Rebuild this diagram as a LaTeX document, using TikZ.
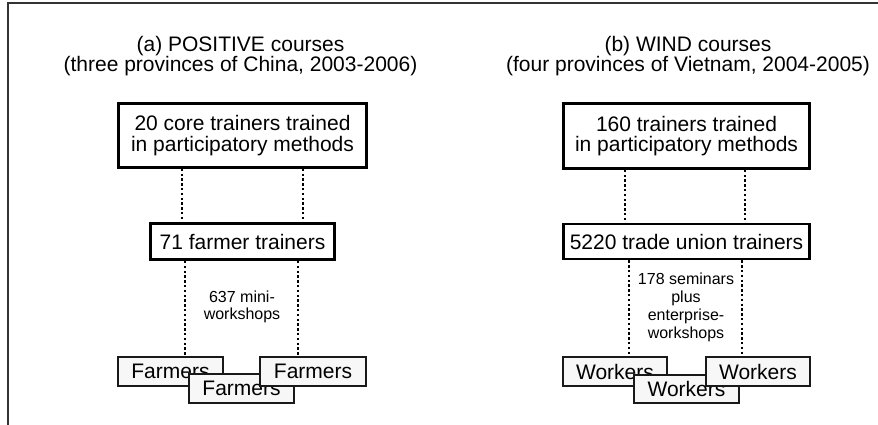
\documentclass[tikz,border=0pt]{standalone}
\usepackage{fontspec}
\setmainfont{Liberation Sans}
\begin{document}
\begin{tikzpicture}[x=1pt,y=-1pt,
  stagebox/.style={draw=black, line width=2.6pt, fill=white, inner sep=0pt,
    align=center, font=\fontsize{21}{20.7}\selectfont},
  groupbox/.style={draw=black!90, line width=2.2pt, fill=black!3, inner sep=0pt,
    minimum height=28.5pt, font=\fontsize{21}{21}\selectfont},
  link/.style={line width=2.6pt, dash pattern=on 2.4pt off 2.4pt},
  heading/.style={align=center, font=\fontsize{21}{17.5}\selectfont},
  note/.style={align=center, inner sep=0pt},
  frameline/.style={draw=black!80, line width=1.6pt}]

\useasboundingbox (0,0) rectangle (878,425);

% outer frame (top and left edges)
\coordinate (ftr) at (878,3);
\coordinate (ftl) at (8,3);
\coordinate (fbl) at (8,425);
\draw[frameline] (ftr) -- (ftl) -- (fbl);

% ---------- (a) POSITIVE ----------
\node[heading] (ta) at (240.5,56) {(a) POSITIVE courses\\(three provinces of China, 2003-2006)};

\node[stagebox, minimum width=248pt, minimum height=64pt] (a1) at (242.5,135.5)
  {20 core trainers trained\\in participatory methods};
\node[stagebox, minimum width=184pt, minimum height=36.5pt] (a2) at (242.5,241.5)
  {71 farmer trainers};

\node[groupbox, minimum width=104.5pt] (f1) at (170.5,371.5) {Farmers};
\node[groupbox, minimum width=104.5pt] (f2) at (241.5,388.5) {Farmers};
\node[groupbox, minimum width=105.5pt] (f3) at (313,371.5) {Farmers};

\draw[link] ([xshift=-60.5pt]a1.south) -- ([xshift=-60.5pt]a1.south |- a2.north);
\draw[link] ([xshift=60.5pt]a1.south) -- ([xshift=60.5pt]a1.south |- a2.north);
\draw[link] ([xshift=-57.5pt]a2.south) -- ([xshift=-57.5pt]a2.south |- f1.north);
\draw[link] ([xshift=55.5pt]a2.south) -- ([xshift=55.5pt]a2.south |- f3.north);

\node[note, font=\fontsize{16}{17}\selectfont] (na) at (242,306.5) {637 mini-\\workshops};

% ---------- (b) WIND ----------
\node[heading] (tb) at (688,56) {(b) WIND courses\\(four provinces of Vietnam, 2004-2005)};

\node[stagebox, minimum width=246.5pt, minimum height=65pt] (b1) at (686.5,136)
  {160 trainers trained\\in participatory methods};
\node[stagebox, minimum width=246.5pt, minimum height=35pt] (b2) at (686.5,241.5)
  {5220 trade union trainers};

\node[groupbox, minimum width=103.5pt] (w1) at (615,371.5) {Workers};
\node[groupbox, minimum width=104.5pt] (w2) at (686.5,389) {Workers};
\node[groupbox, minimum width=103.5pt] (w3) at (758,371.5) {Workers};

\draw[link] ([xshift=-61.5pt]b1.south) -- ([xshift=-61.5pt]b1.south |- b2.north);
\draw[link] ([xshift=58.5pt]b1.south) -- ([xshift=58.5pt]b1.south |- b2.north);
\draw[link] ([xshift=-57.5pt]b2.south) -- ([xshift=-57.5pt]b2.south |- w1.north);
\draw[link] ([xshift=55.5pt]b2.south) -- ([xshift=55.5pt]b2.south |- w3.north);

\node[note, font=\fontsize{16}{18}\selectfont] (nb) at (686,307)
  {178 seminars\\plus\\enterprise-\\workshops};

\end{tikzpicture}
\end{document}
